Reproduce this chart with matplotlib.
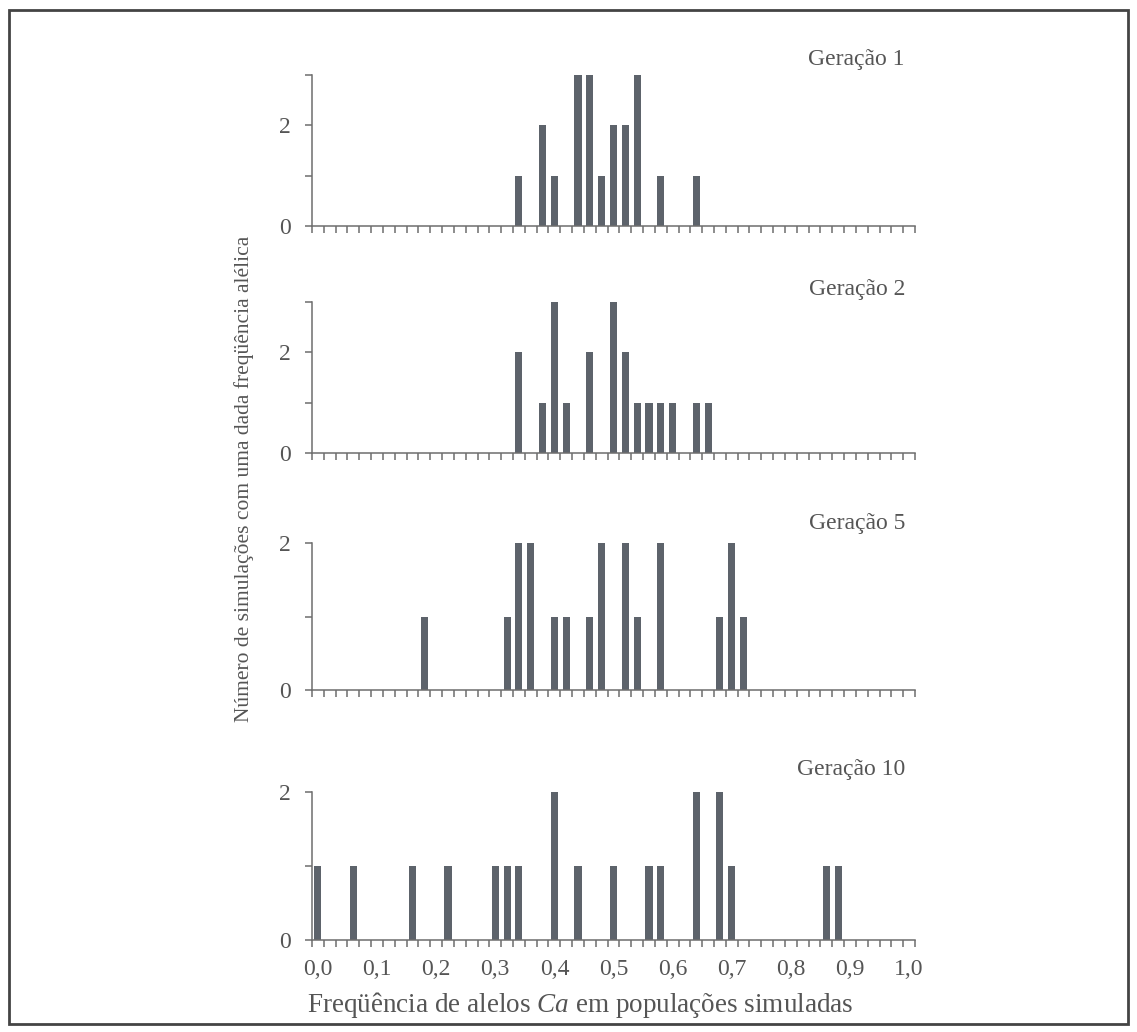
import numpy as np
import matplotlib.pyplot as plt
from matplotlib.patches import Rectangle

plt.rcParams['font.family'] = ['Liberation Serif', 'DejaVu Serif']
plt.rcParams['mathtext.fontset'] = 'custom'
plt.rcParams['mathtext.rm'] = 'Liberation Serif'
plt.rcParams['mathtext.it'] = 'Liberation Serif:italic'

# frequencies of Ca allele and number of simulations (20 per generation)
gen1_freq = [0.34, 0.38, 0.40, 0.44, 0.46, 0.48, 0.50, 0.52, 0.54, 0.58, 0.64]
gen1_count = [1, 2, 1, 3, 3, 1, 2, 2, 3, 1, 1]

gen2_freq = [0.34, 0.38, 0.40, 0.42, 0.46, 0.50, 0.52, 0.54, 0.56, 0.58, 0.60, 0.64, 0.66]
gen2_count = [2, 1, 3, 1, 2, 3, 2, 1, 1, 1, 1, 1, 1]

gen5_freq = [0.18, 0.32, 0.34, 0.36, 0.40, 0.42, 0.46, 0.48, 0.52, 0.54, 0.58, 0.68, 0.70, 0.72]
gen5_count = [1, 1, 2, 2, 1, 1, 1, 2, 2, 1, 2, 1, 2, 1]

gen10_freq = [0.00, 0.06, 0.16, 0.22, 0.30, 0.32, 0.34, 0.40, 0.44, 0.50, 0.56, 0.58, 0.64, 0.68, 0.70, 0.86, 0.88]
gen10_count = [1, 1, 1, 1, 1, 1, 1, 2, 1, 1, 1, 1, 2, 2, 1, 1, 1]

titles = ['Geração 1', 'Geração 2', 'Geração 5', 'Geração 10']
xlabels = ['0,0', '0,1', '0,2', '0,3', '0,4', '0,5', '0,6', '0,7', '0,8', '0,9', '1,0']

bar_col = '#5d636b'
ax_col = '#6e6e6e'
txt_col = '#555555'

W, H = 1137, 1032
fig = plt.figure(figsize=(W / 100, H / 100), dpi=100)

# panel boxes in pixels: (top, bottom, ymax)
boxes = [(75, 226, 3), (302, 453, 3), (543, 690, 2), (792, 940, 2)]
title_y = [60, 290, 523, 770]
data = [(gen1_freq, gen1_count), (gen2_freq, gen2_count),
        (gen5_freq, gen5_count), (gen10_freq, gen10_count)]

left, right = 312, 915
for i, ((freq, cnt), (top, bot, ymax)) in enumerate(zip(data, boxes)):
    ax = fig.add_axes([left / W, 1 - bot / H, (right - left) / W, (bot - top) / H])
    ax.bar(freq, cnt, width=0.012, color=bar_col, linewidth=0)
    ax.set_xlim(-0.01, 1.01)
    ax.set_ylim(0, ymax)
    for s in ['top', 'right']:
        ax.spines[s].set_visible(False)
    for s in ['left', 'bottom']:
        ax.spines[s].set_color(ax_col)
        ax.spines[s].set_linewidth(1.1)
    ax.set_yticks(range(ymax + 1))
    ax.set_yticklabels(['2' if k == 2 else ('0' if k == 0 else '') for k in range(ymax + 1)])
    ax.tick_params(axis='y', direction='out', length=5, width=1.1, color=ax_col,
                   labelsize=17, labelcolor=txt_col, pad=10)
    ax.set_xticks(np.arange(-0.01, 1.02, 0.02), minor=True)
    ax.tick_params(axis='x', which='minor', direction='out', length=5, width=1.1, color=ax_col)
    if i == 3:
        ax.set_xticks(np.linspace(0, 1, 11))
        ax.set_xticklabels(xlabels)
        ax.tick_params(axis='x', which='major', length=0, labelsize=17,
                       labelcolor=txt_col, pad=14)
    else:
        ax.set_xticks([])
    fig.text(905 / W, 1 - title_y[i] / H, titles[i], ha='right', va='center',
             fontsize=17, color=txt_col)

fig.text(244 / W, 1 - 236 / H, 'Número de simulações com uma dada freqüência alélica',
         rotation=90, ha='center', va='top', fontsize=15.5, color=txt_col)
fig.text(580 / W, 1 - 1005 / H, r'Freqüência de alelos $\mathit{Ca}$ em populações simuladas',
         ha='center', va='center', fontsize=19.5, color=txt_col)

fig.patches.append(Rectangle((9 / W, 1 - 1024 / H), 1119 / W, 1014 / H,
                             transform=fig.transFigure, fill=False,
                             edgecolor='#444444', linewidth=2))

fig.savefig('out.png', dpi=100)
